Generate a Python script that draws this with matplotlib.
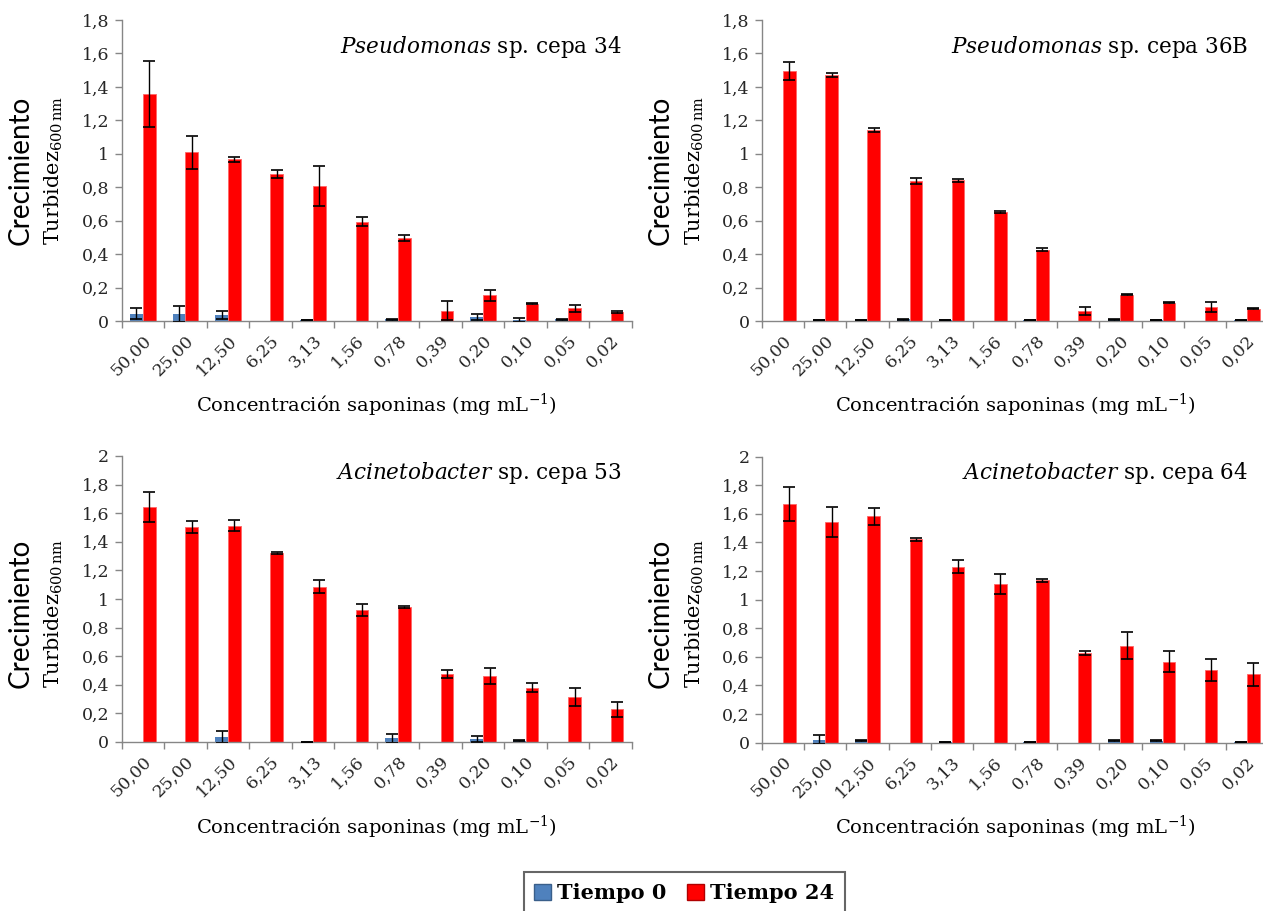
import matplotlib
matplotlib.use("Agg")
import matplotlib.pyplot as plt
import numpy as np
from matplotlib.patches import Patch

plt.rcParams['font.family'] = ['DejaVu Serif']
plt.rcParams['mathtext.fontset'] = 'custom'
plt.rcParams['mathtext.rm'] = 'DejaVu Serif'
plt.rcParams['mathtext.it'] = 'DejaVu Serif:italic'

categories = ["50,00", "25,00", "12,50", "6,25", "3,13", "1,56", "0,78",
              "0,39", "0,20", "0,10", "0,05", "0,02"]

# Pseudomonas sp. cepa 34
p34_t0 = [0.044, 0.044, 0.036, 0.0, 0.003, 0.0, 0.010, 0.0, 0.024, 0.008, 0.010, 0.0]
p34_t0_err = [0.032, 0.048, 0.026, 0.0, 0.0, 0.0, 0.003, 0.0, 0.018, 0.012, 0.002, 0.0]
p34_t24 = [1.357, 1.008, 0.966, 0.878, 0.808, 0.595, 0.497, 0.062, 0.154, 0.102, 0.076, 0.056]
p34_t24_err = [0.195, 0.100, 0.014, 0.024, 0.118, 0.028, 0.020, 0.056, 0.034, 0.003, 0.020, 0.006]

# Pseudomonas sp. cepa 36B
p36_t0 = [0.0, 0.003, 0.003, 0.010, 0.005, 0.0, 0.004, 0.0, 0.010, 0.003, 0.0, 0.003]
p36_t0_err = [0.0, 0.0, 0.0, 0.003, 0.0, 0.0, 0.0, 0.0, 0.002, 0.0, 0.0, 0.0]
p36_t24 = [1.493, 1.469, 1.140, 0.838, 0.842, 0.651, 0.427, 0.060, 0.158, 0.110, 0.084, 0.074]
p36_t24_err = [0.054, 0.012, 0.012, 0.016, 0.008, 0.004, 0.008, 0.024, 0.002, 0.002, 0.028, 0.004]

# Acinetobacter sp. cepa 53
a53_t0 = [0.0, 0.0, 0.035, 0.0, 0.003, 0.0, 0.026, 0.0, 0.021, 0.010, 0.0, 0.0]
a53_t0_err = [0.0, 0.0, 0.040, 0.0, 0.0, 0.0, 0.030, 0.0, 0.020, 0.005, 0.0, 0.0]
a53_t24 = [1.641, 1.503, 1.512, 1.321, 1.085, 0.922, 0.943, 0.476, 0.462, 0.380, 0.317, 0.229]
a53_t24_err = [0.105, 0.040, 0.037, 0.005, 0.045, 0.040, 0.006, 0.025, 0.054, 0.033, 0.063, 0.054]

# Acinetobacter sp. cepa 64
a64_t0 = [0.0, 0.018, 0.012, 0.0, 0.004, 0.0, 0.004, 0.0, 0.012, 0.012, 0.0, 0.004]
a64_t0_err = [0.0, 0.031, 0.003, 0.0, 0.0, 0.0, 0.0, 0.0, 0.002, 0.002, 0.0, 0.0]
a64_t24 = [1.669, 1.541, 1.583, 1.422, 1.228, 1.105, 1.135, 0.625, 0.678, 0.566, 0.510, 0.476]
a64_t24_err = [0.119, 0.103, 0.060, 0.010, 0.045, 0.070, 0.010, 0.015, 0.096, 0.073, 0.077, 0.081]

titles = [("Pseudomonas", "sp. cepa 34"), ("Pseudomonas", "sp. cepa 36B"),
          ("Acinetobacter", "sp. cepa 53"), ("Acinetobacter", "sp. cepa 64")]
legend_labels = ["Tiempo 0", "Tiempo 24"]
ytick_top = [["0", "0,2", "0,4", "0,6", "0,8", "1", "1,2", "1,4", "1,6", "1,8"],
             ["0", "0,2", "0,4", "0,6", "0,8", "1", "1,2", "1,4", "1,6", "1,8", "2"]]

W, H = 1263, 911
fig = plt.figure(figsize=(W / 100, H / 100), dpi=100)

BLUE = "#4F81BD"
RED = "#FF0000"
AXC = "#868686"
TXT = "#262626"

# panel boxes in pixels: (left, top, right, bottom)
boxes = [(121.6, 20, 632, 321), (762, 20, 1268, 321),
         (121.6, 456, 632, 742), (762, 456.5, 1268, 742.5)]
data = [(p34_t0, p34_t0_err, p34_t24, p34_t24_err, 1.8, 0),
        (p36_t0, p36_t0_err, p36_t24, p36_t24_err, 1.8, 0),
        (a53_t0, a53_t0_err, a53_t24, a53_t24_err, 2.0, 1),
        (a64_t0, a64_t0_err, a64_t24, a64_t24_err, 2.0, 1)]
title_pos = [(622, 47), (1248, 47), (622, 473), (1248, 473)]
ylab_y = [170, 170, 613, 613]
xlab_y = [405, 405, 827, 827]


def draw_err(ax, xs, vals, errs):
    vals = np.asarray(vals)
    errs = np.asarray(errs)
    m = vals > 0
    ax.errorbar(np.asarray(xs)[m], vals[m], yerr=errs[m], fmt='none', ecolor='black',
                elinewidth=1, capsize=4.3, capthick=1.2, zorder=3)


for i, (box, d) in enumerate(zip(boxes, data)):
    l, t, r, b = box
    ax = fig.add_axes([l / W, 1 - b / H, (r - l) / W, (b - t) / H])
    t0, t0e, t24, t24e, ymax, yi = d
    x = np.arange(len(categories))
    w = 0.3
    ax.bar(x - w / 2, t0, w, color=BLUE, zorder=2)
    ax.bar(x + w / 2, t24, w, color=RED, edgecolor='#ff6666', linewidth=0.6, zorder=2)
    draw_err(ax, x - w / 2, t0, t0e)
    draw_err(ax, x + w / 2, t24, t24e)
    ax.set_xlim(-0.5, len(categories) - 0.5)
    ax.set_ylim(0, ymax)
    labs = ytick_top[yi]
    ax.set_yticks(np.arange(len(labs)) * 0.2)
    ax.set_yticklabels(labs, fontsize=12.5, color=TXT)
    ax.set_xticks(x)
    ax.set_xticklabels(categories, rotation=45, ha='right', va='top',
                       rotation_mode='anchor', fontsize=12.5, color=TXT)
    ax.set_xticks(np.arange(len(categories) + 1) - 0.5, minor=True)
    ax.tick_params(axis='x', which='major', length=0, pad=8)
    ax.tick_params(axis='x', which='minor', length=5, color=AXC, width=1)
    ax.tick_params(axis='y', length=5, color=AXC, width=1, pad=4)
    for s in ['top', 'right']:
        ax.spines[s].set_visible(False)
    for s in ['left', 'bottom']:
        ax.spines[s].set_color(AXC)
        ax.spines[s].set_linewidth(1)
    ax.patch.set_alpha(0)

    dx = 0 if i % 2 == 0 else 640.4
    yc = ylab_y[i]
    fig.text((20.5 + dx) / W, 1 - yc / H, "Crecimiento", rotation=90,
             ha='center', va='center', fontsize=20, family='Lato', color='black')
    fig.text((54 + dx) / W, 1 - yc / H, r"Turbidez$_{\mathrm{600\,nm}}$", rotation=90,
             ha='center', va='center', fontsize=15, color='black')
    fig.text(((l + r) / 2) / W, 1 - xlab_y[i] / H,
             r"Concentración saponinas (mg mL$^{\mathrm{-1}}$)",
             ha='center', va='center', fontsize=14, color='black')
    gx, gy = title_pos[i]
    gen, rest = titles[i]
    fig.text(gx / W, 1 - gy / H, r"$\it{" + gen + "}$ " + rest,
             ha='right', va='center', fontsize=15.5, color='black')

handles = [Patch(facecolor=BLUE, edgecolor='#3a5f8a'), Patch(facecolor=RED, edgecolor='#b00000')]
leg = fig.legend(handles, legend_labels, loc='upper center', ncol=2,
                 bbox_to_anchor=(684 / W, 1 - 862 / H), fontsize=15,
                 frameon=True, fancybox=False, edgecolor='#404040',
                 handlelength=0.8, handleheight=0.8, handletextpad=0.3,
                 columnspacing=1.0, borderpad=0.5)
leg.get_frame().set_linewidth(1.5)
for txt in leg.get_texts():
    txt.set_fontweight('bold')

fig.savefig("out.png", dpi=100)
